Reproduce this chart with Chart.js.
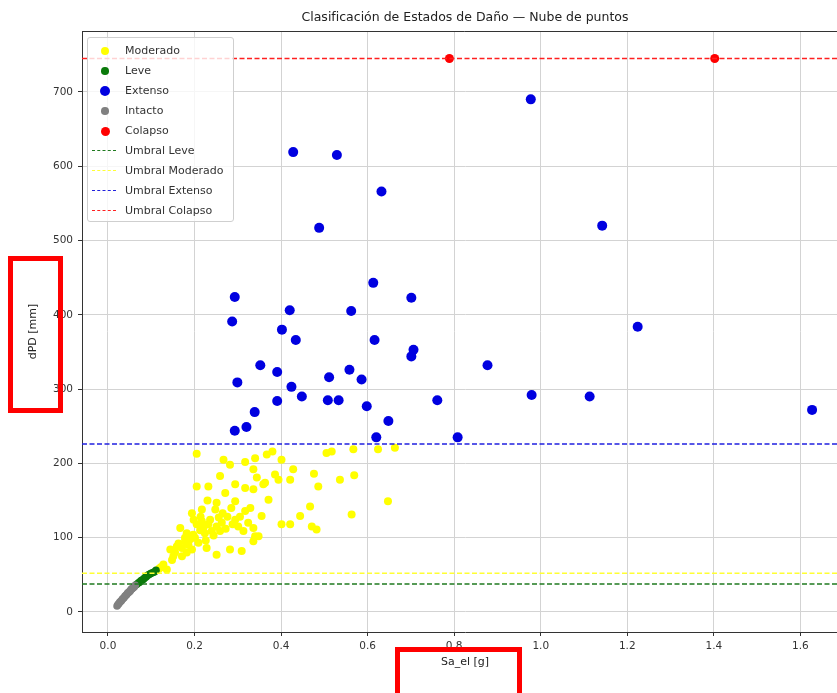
<!DOCTYPE html>
<html lang="es">
<head>
    <meta charset="UTF-8">
    <title>Clasificación de Estados de Daño</title>
    <script src="https://cdn.jsdelivr.net/npm/chart.js"></script>
    <style>
        html, body { margin: 0; padding: 0; background: #fff; overflow: hidden; }
        #wrap { position: relative; width: 870px; height: 693px; }
        #legend {
            position: absolute; left: 87px; top: 37px; width: 147px; height: 185px;
            box-sizing: border-box; padding-top: 3px;
            border: 1px solid #cfcfcf; border-radius: 3px;
            background: rgba(255, 255, 255, 0.8);
            font-family: "DejaVu Sans", sans-serif; font-size: 11px; color: #333;
        }
        .row { position: relative; height: 20px; line-height: 20px; }
        .row span.txt { position: absolute; left: 37px; white-space: nowrap; }
        .dot { position: absolute; border-radius: 50%; }
        .dash { position: absolute; left: 4px; top: 9px; width: 24px; height: 0; border-top: 1.5px dashed; }
        .mark { position: absolute; border: 5px solid #ff0000; box-sizing: border-box; }
    </style>
</head>
<body>
<div id="wrap">
    <canvas id="chart" width="870" height="693"></canvas>
    <div id="legend"></div>
    <div class="mark" style="left:8px; top:256px; width:55px; height:157px;"></div>
    <div class="mark" style="left:395px; top:647px; width:127px; height:52px;"></div>
</div>
<script>
// axis ranges and ticks
const xRange = [-0.06, 1.71];
const yRange = [-27, 782];
const xTicks = [0, 0.2, 0.4, 0.6, 0.8, 1.0, 1.2, 1.4, 1.6];
const yTicks = [0, 100, 200, 300, 400, 500, 600, 700];

// point clouds [Sa_el, dPD]
const moderado = [
    [0.205,213],[0.267,205],[0.282,198],[0.317,202],[0.340,207],[0.367,212],[0.380,216],[0.401,205],
    [0.505,214],[0.517,216],[0.567,219],[0.624,219],[0.663,221],
    [0.259,183],[0.336,192],[0.386,185],[0.428,192],[0.421,178],[0.476,186],[0.486,169],[0.536,178],
    [0.569,184],[0.205,169],[0.232,169],[0.294,172],[0.317,167],[0.336,165],[0.363,174],[0.394,178],
    [0.359,172],[0.271,160],[0.251,147],[0.294,149],[0.371,151],[0.217,138],[0.248,138],[0.317,136],
    [0.355,129],[0.467,142],[0.647,149],[0.194,133],[0.198,124],[0.217,122],[0.232,118],[0.251,115],
    [0.263,120],[0.224,106],[0.240,109],[0.259,109],[0.294,124],[0.301,115],[0.313,109],[0.324,120],
    [0.336,113],[0.348,102],[0.336,95],[0.401,118],[0.421,118],[0.444,129],[0.471,115],[0.482,111],
    [0.563,131],[0.167,113],[0.182,106],[0.190,98],[0.201,100],[0.159,88],[0.171,86],[0.182,80],
    [0.194,84],[0.144,84],[0.151,75],[0.171,75],[0.128,64],[0.136,57],[0.251,77],[0.282,84],
    [0.309,82],[0.228,86],[0.209,93],[0.340,102],[0.122,60],[0.155,80],[0.163,92],[0.178,95],
    [0.213,110],[0.276,128],[0.285,140],[0.230,150],[0.265,133],[0.205,118],
    [0.186,90],[0.197,104],[0.221,114],[0.236,124],[0.244,103],[0.272,112],[0.288,118],[0.305,128],
    [0.178,100],[0.214,128],[0.256,127],[0.148,70],[0.118,58],[0.226,96],[0.329,140],[0.344,181]
];
const leve = [
    [0.066,37],[0.070,39],[0.073,40],[0.076,42],[0.079,43],[0.082,44],[0.085,46],[0.088,47],
    [0.091,49],[0.094,50],[0.097,51],[0.100,52],[0.104,53],[0.108,54],[0.111,56]
];
const extenso = [
    [0.293,424],[0.287,391],[0.299,309],[0.293,244],
    [0.428,619],[0.529,615],[0.632,566],[0.488,517],[0.613,443],[0.701,423],[0.420,406],[0.562,405],
    [0.402,380],[0.434,366],[0.616,366],[0.706,353],[0.701,344],[0.877,332],[0.352,332],[0.391,323],
    [0.511,316],[0.558,326],[0.586,313],[0.424,303],[0.448,290],[0.391,284],[0.508,285],[0.533,285],
    [0.598,277],[0.761,285],[0.339,269],[0.648,257],[0.320,249],[0.620,235],[0.808,235],
    [0.977,690],[1.142,520],[1.224,384],[0.979,292],[1.113,290],[1.627,272]
];
const intacto = [
    [0.021,8],[0.023,10],[0.025,11],[0.027,13],[0.029,14],[0.031,15],[0.033,17],[0.035,18],
    [0.037,19],[0.039,21],[0.041,22],[0.043,23],[0.045,25],[0.047,26],[0.049,27],[0.051,28],
    [0.053,30],[0.055,31],[0.057,32],[0.059,33],[0.061,34],[0.063,36]
];
const colapso = [[0.789,745],[1.402,745]];

const seriesNames = ['Moderado', 'Leve', 'Extenso', 'Intacto', 'Colapso'];
const seriesData = [moderado, leve, extenso, intacto, colapso];
const seriesColors = ['#ffff00', '#0b7a0b', '#0000e0', '#808080', '#ff0000'];
const seriesRadius = [4, 3.8, 5, 3.8, 4.5];

// damage thresholds dPD [mm]
const umbralNames = ['Umbral Leve', 'Umbral Moderado', 'Umbral Extenso', 'Umbral Colapso'];
const umbralValues = [37.5, 52, 226, 745];
const umbralColors = ['#1f7a1f', '#ffff33', '#2020e0', '#ff2020'];

const font = { family: 'DejaVu Sans', size: 10.5 };

const datasets = [];
seriesNames.forEach((name, i) => {
    datasets.push({
        label: name,
        data: seriesData[i].map(p => ({ x: p[0], y: p[1] })),
        backgroundColor: seriesColors[i],
        borderColor: seriesColors[i],
        pointRadius: seriesRadius[i],
        pointBorderWidth: 0,
        order: 5 - i
    });
});
umbralNames.forEach((name, i) => {
    datasets.push({
        label: name,
        data: xRange.map(x => ({ x: x, y: umbralValues[i] })),
        showLine: true,
        borderColor: umbralColors[i],
        borderWidth: 1.5,
        borderDash: [5, 2.5],
        pointRadius: 0,
        fill: false,
        order: 0
    });
});

// top and right spines like matplotlib
const frame = {
    id: 'frame',
    beforeDatasetsDraw(chart) {
        const { ctx, chartArea: a } = chart;
        ctx.save();
        ctx.strokeStyle = '#333';
        ctx.lineWidth = 1;
        ctx.beginPath();
        ctx.moveTo(a.left, a.top + 0.5);
        ctx.lineTo(a.right - 0.5, a.top + 0.5);
        ctx.lineTo(a.right - 0.5, a.bottom);
        ctx.stroke();
        ctx.restore();
    }
};

new Chart(document.getElementById('chart'), {
    type: 'scatter',
    data: { datasets: datasets },
    plugins: [frame],
    options: {
        responsive: false,
        animation: false,
        devicePixelRatio: 1,
        layout: { padding: { top: 0, right: 22, left: 0, bottom: 0 } },
        plugins: {
            legend: { display: false },
            tooltip: { enabled: false },
            title: {
                display: true,
                fullSize: false,
                text: 'Clasificación de Estados de Daño — Nube de puntos',
                font: { family: 'DejaVu Sans', size: 12.5, weight: 'normal' },
                color: '#222',
                padding: { top: 10.5, bottom: 5.5 }
            }
        },
        scales: {
            x: {
                type: 'linear',
                min: xRange[0],
                max: xRange[1],
                afterBuildTicks: s => { s.ticks = xTicks.map(v => ({ value: v })); },
                afterFit: s => { s.height = 61; },
                ticks: { callback: v => v.toFixed(1), font: font, color: '#333', padding: 4, maxRotation: 0, autoSkip: false },
                grid: { color: '#d3d3d3', tickColor: '#333', tickLength: 4 },
                border: { color: '#333' },
                title: { display: true, text: 'Sa_el [g]', font: { family: 'DejaVu Sans', size: 11 }, color: '#222', padding: { top: 0, bottom: 24 } }
            },
            y: {
                type: 'linear',
                min: yRange[0],
                max: yRange[1],
                afterBuildTicks: s => { s.ticks = yTicks.map(v => ({ value: v })); },
                afterFit: s => { s.width = 82; },
                ticks: { font: font, color: '#333', padding: 5 },
                grid: { color: '#d3d3d3', tickColor: '#333', tickLength: 4 },
                border: { color: '#333' },
                title: { display: true, text: 'dPD [mm]', font: { family: 'DejaVu Sans', size: 11 }, color: '#222', padding: { top: 27, bottom: 0 } }
            }
        }
    }
});

// legend box in the upper-left corner
const legend = document.getElementById('legend');
seriesNames.forEach((name, i) => {
    const row = document.createElement('div');
    row.className = 'row';
    const r = seriesRadius[i];
    row.innerHTML = '<span class="dot" style="left:' + (17 - r) + 'px;top:' + (10 - r) + 'px;width:' + (2 * r) +
        'px;height:' + (2 * r) + 'px;background:' + seriesColors[i] + '"></span><span class="txt">' + name + '</span>';
    legend.appendChild(row);
});
umbralNames.forEach((name, i) => {
    const row = document.createElement('div');
    row.className = 'row';
    row.innerHTML = '<span class="dash" style="border-color:' + umbralColors[i] + '"></span><span class="txt">' + name + '</span>';
    legend.appendChild(row);
});
</script>
</body>
</html>
